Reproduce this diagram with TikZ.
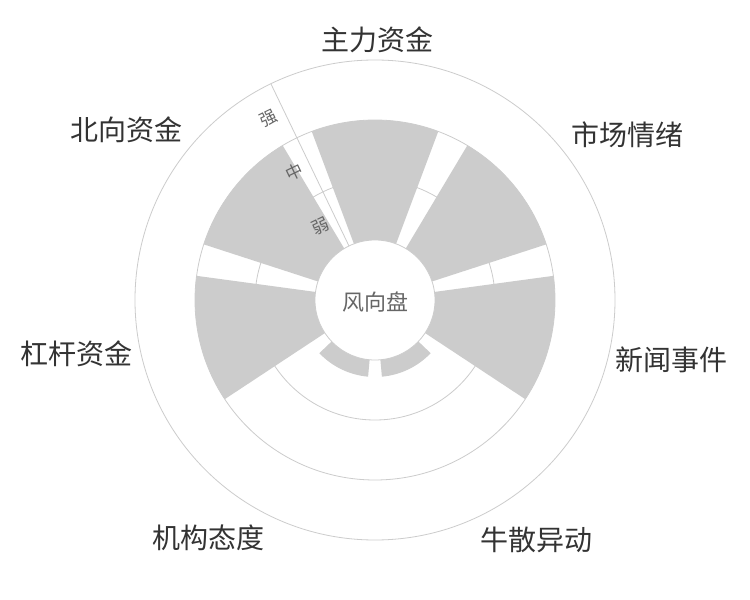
\documentclass[tikz,border=0pt]{standalone}
\usepackage{fontspec}
\setmainfont{Noto Sans CJK SC}
\usetikzlibrary{calc}
\definecolor{barc}{HTML}{CCCCCC}
\definecolor{gridc}{HTML}{CCCCCC}
\definecolor{labc}{HTML}{333333}
\definecolor{axlab}{HTML}{666666}
\newcommand\ringbar[4]{% name, center angle, inner r, outer r
  \fill[barc] ({#2-20.571}:#3) arc[start angle={#2-20.571}, end angle={#2+20.571}, radius=#3]
    -- ({#2+20.571}:#4) arc[start angle={#2+20.571}, end angle={#2-20.571}, radius=#4] -- cycle;
  \coordinate (#1) at (#2:#4);}
\tikzset{
  gridline/.style={draw=gridc, line width=0.8pt},
  catlabel/.style={font=\fontsize{28}{32}\selectfont, text=labc, inner sep=0pt},
  axislabel/.style={font=\fontsize{17}{20}\selectfont, text=axlab, inner sep=0pt, rotate=25.71},
  centerlabel/.style={font=\fontsize{22}{26}\selectfont, text=axlab, inner sep=0pt}
}
\begin{document}
\begin{tikzpicture}[x=1pt,y=1pt]
\useasboundingbox[fill=white] (-375,-300) rectangle (375,300);
% grid circles
\draw[gridline] (0,0) circle[radius=120];
\draw[gridline] (0,0) circle[radius=180];
\draw[gridline] (0,0) circle[radius=240];
% bars
\ringbar{b1}{90}{60}{180}
\ringbar{b2}{38.571}{60}{180}
\ringbar{b3}{-12.857}{60}{180}
\ringbar{b4}{-64.286}{60}{77}
\ringbar{b5}{-115.714}{60}{77}
\ringbar{b6}{-167.143}{60}{180}
\ringbar{b7}{141.429}{60}{180}
% inner hole
\draw[gridline, fill=white] (0,0) circle[radius=60];
% radial axis
\coordinate (ax0) at (115.71:60);
\coordinate (ax1) at (115.71:240);
\draw[gridline] (ax0) -- (ax1);
\node[axislabel] (weak) at ($(115.71:90)+(205.71:17)$) {弱};
\node[axislabel] (mid) at ($(115.71:150)+(205.71:17)$) {中};
\node[axislabel] (strong) at ($(115.71:210)+(205.71:17)$) {强};
% center
\node[centerlabel] (center) at (1,-2) {风向盘};
% category labels
\node[catlabel] (l1) at (3,260) {主力资金};
\node[catlabel] (l2) at (252,165) {市场情绪};
\node[catlabel] (l3) at (296,-60) {新闻事件};
\node[catlabel] (l4) at (162,-240) {牛散异动};
\node[catlabel] (l5) at (-166,-238) {机构态度};
\node[catlabel] (l6) at (-298,-54) {杠杆资金};
\node[catlabel] (l7) at (-248,170) {北向资金};
\end{tikzpicture}
\end{document}
